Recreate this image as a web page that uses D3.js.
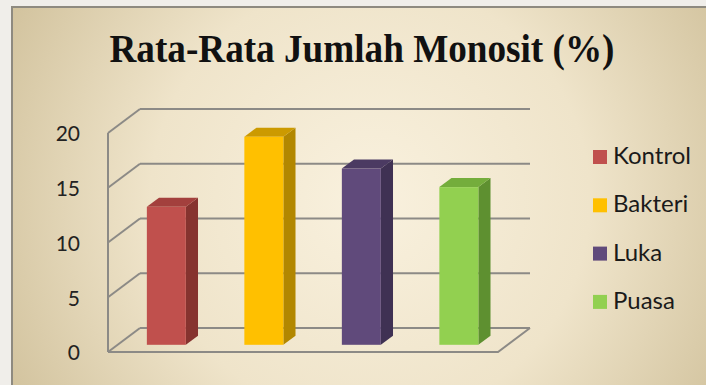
<!DOCTYPE html>
<html>
<head>
<meta charset="utf-8">
<script src="https://cdn.jsdelivr.net/npm/d3@7"></script>
<style>
  body { margin: 0; background: #f0eeea; }
  svg { display: block; }
</style>
</head>
<body>
<svg id="chart" width="706" height="385"></svg>
<script>
// data
var categories = ["Kontrol", "Bakteri", "Luka", "Puasa"];
var values = [12.6, 19.0, 16.1, 14.4];
var yTicks = [0, 5, 10, 15, 20];
var titleText = "Rata-Rata Jumlah Monosit (%)";

var frontColors = ["#c0504d", "#ffc000", "#604a7b", "#92d050"];
var topColors   = ["#a3403d", "#cc9a00", "#4b3a62", "#74ad3c"];
var sideColors  = ["#86332f", "#b28700", "#3f3153", "#5e9030"];

var width = 706, height = 385;
var svg = d3.select('#chart');

// 3d depth offset of the floor/walls
var depthX = 32, depthY = -24;
var barD0 = 0.3, barD1 = 0.68;

var x = d3.scaleBand()
  .domain(categories)
  .range([108, 498])
  .paddingInner(0.6)
  .paddingOuter(0.3);

var y = d3.scaleLinear()
  .domain([0, 20])
  .range([352, 133]);

// background frame
var defs = svg.append('defs');
var grad = defs.append('radialGradient')
  .attr('id', 'bg')
  .attr('gradientUnits', 'userSpaceOnUse')
  .attr('cx', 370).attr('cy', 200).attr('r', 440);
grad.append('stop').attr('offset', 0).attr('stop-color', '#f9f1de');
grad.append('stop').attr('offset', 0.5).attr('stop-color', '#efe4ca');
grad.append('stop').attr('offset', 1).attr('stop-color', '#cdbd96');

svg.append('rect')
  .attr('x', 12).attr('y', 7)
  .attr('width', width).attr('height', height)
  .attr('fill', 'url(#bg)')
  .attr('stroke', '#8e8a80')
  .attr('stroke-width', 2);

// title
svg.append('text')
  .attr('x', 362).attr('y', 62)
  .attr('text-anchor', 'middle')
  .attr('font-family', '"Liberation Serif", "Times New Roman", serif')
  .attr('font-weight', 'bold')
  .attr('font-size', 40)
  .attr('textLength', 505)
  .attr('lengthAdjust', 'spacingAndGlyphs')
  .attr('fill', '#111')
  .text(titleText);

var x0 = x.range()[0], x1 = x.range()[1];
var gridColor = '#8c8a86';

// gridlines: back wall + left wall
var grid = svg.append('g');
yTicks.forEach(function(v){
  grid.append('line')
    .attr('x1', x0 + depthX).attr('y1', y(v) + depthY)
    .attr('x2', x1 + depthX).attr('y2', y(v) + depthY)
    .attr('stroke', gridColor).attr('stroke-width', 2);
  grid.append('line')
    .attr('x1', x0).attr('y1', y(v))
    .attr('x2', x0 + depthX).attr('y2', y(v) + depthY)
    .attr('stroke', gridColor).attr('stroke-width', 2);
});
// left wall front edge
grid.append('line')
  .attr('x1', x0).attr('y1', y(0))
  .attr('x2', x0).attr('y2', y(20))
  .attr('stroke', gridColor).attr('stroke-width', 2);
// floor front + right edge
grid.append('polyline')
  .attr('points', [[x0, y(0)], [x1, y(0)], [x1 + depthX, y(0) + depthY]].map(function(p){ return p.join(','); }).join(' '))
  .attr('fill', 'none')
  .attr('stroke', gridColor).attr('stroke-width', 2);

// y labels
svg.append('g').selectAll('text')
  .data(yTicks)
  .enter().append('text')
  .attr('x', 80)
  .attr('y', function(d){ return y(d) + 3; })
  .attr('text-anchor', 'end')
  .attr('dominant-baseline', 'middle')
  .attr('font-family', 'Lato, "Open Sans", sans-serif')
  .attr('font-size', 21)
  .attr('fill', '#222')
  .text(function(d){ return d; });

// bars
function pts(arr){ return arr.map(function(p){ return p[0] + ',' + p[1]; }).join(' '); }

var bars = svg.append('g').selectAll('g')
  .data(categories)
  .enter().append('g');

bars.each(function(c, i){
  var g = d3.select(this);
  var fx = x(c) + depthX * barD0, fy0 = y(0) + depthY * barD0, fy1 = y(values[i]) + depthY * barD0;
  var w = x.bandwidth();
  var dx = depthX * (barD1 - barD0), dy = depthY * (barD1 - barD0);
  // side
  g.append('polygon')
    .attr('points', pts([[fx + w, fy0], [fx + w, fy1], [fx + w + dx, fy1 + dy], [fx + w + dx, fy0 + dy]]))
    .attr('fill', sideColors[i]);
  // top
  g.append('polygon')
    .attr('points', pts([[fx, fy1], [fx + w, fy1], [fx + w + dx, fy1 + dy], [fx + dx, fy1 + dy]]))
    .attr('fill', topColors[i]);
  // front
  g.append('rect')
    .attr('x', fx).attr('y', fy1)
    .attr('width', w).attr('height', fy0 - fy1)
    .attr('fill', frontColors[i]);
});

// legend
var legend = svg.append('g').selectAll('g')
  .data(categories)
  .enter().append('g')
  .attr('transform', function(d, i){ return 'translate(593,' + (157 + i * 48.3) + ')'; });

legend.append('rect')
  .attr('x', 0).attr('y', -7)
  .attr('width', 14).attr('height', 14)
  .attr('fill', function(d, i){ return frontColors[i]; });

legend.append('text')
  .attr('x', 20).attr('y', 1)
  .attr('dominant-baseline', 'middle')
  .attr('font-family', 'Lato, "Open Sans", sans-serif')
  .attr('font-size', 24)
  .attr('fill', '#1a1a1a')
  .text(function(d){ return d; });
</script>
</body>
</html>
